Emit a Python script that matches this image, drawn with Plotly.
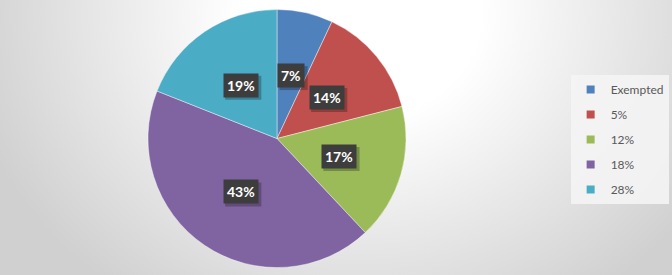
import numpy as np
import plotly.graph_objects as go

# ---- data ----
categories = ["Exempted", "5%", "12%", "18%", "28%"]
shares = [7, 14, 17, 43, 19]
colors = ["#4F81BD", "#C0504D", "#9BBB59", "#8064A2", "#4BACC6"]

W, H = 672, 275
pie_x = [0.2202, 0.6042]
pie_y = [0.0255, 0.967]

fig = go.Figure()

# background radial gradient (decoration)
bg_x = [-40, 760, 760, -40, -40]
bg_y = [-330, -330, 360, 360, -330]
fig.add_trace(go.Scatter(
    x=bg_x, y=bg_y, mode="lines", fill="toself", line=dict(width=0),
    fillgradient=dict(type="radial",
                      colorscale=[[0, "#ffffff"], [0.3, "#ffffff"], [1, "#d0d0d0"]]),
    showlegend=False, hoverinfo="skip"))

# legend entries (one per category)
for i, (c, col) in enumerate(zip(categories, colors)):
    fig.add_trace(go.Scatter(
        x=[None], y=[None], mode="markers", name=c, legendgroup=f"g{i}",
        marker=dict(symbol="square", size=8, color=col), showlegend=True))

fig.add_trace(go.Pie(
    labels=categories, values=shares, sort=False, direction="clockwise",
    rotation=0, marker=dict(colors=colors, line=dict(color="rgba(255,255,255,0.6)", width=0.7)),
    textinfo="none", showlegend=False,
    domain=dict(x=pie_x, y=pie_y)))

# data labels
vals = np.array(shares, dtype=float)
frac = vals / vals.sum()
mids = np.cumsum(frac) - frac / 2
cx = (pie_x[0] + pie_x[1]) / 2
cy = (pie_y[0] + pie_y[1]) / 2
R = min((pie_x[1] - pie_x[0]) * W, (pie_y[1] - pie_y[0]) * H) / 2
r = 0.5 * R
for f, v in zip(mids, frac):
    th = 2 * np.pi * f
    ax = cx + r * np.sin(th) / W
    ay = cy + r * np.cos(th) / H
    txt = f"{round(v * 100)}%"
    bw = (len(txt) - 1) * 8.1 + 11 + 8
    bh = 23
    fig.add_shape(type="rect", xref="paper", yref="paper",
                  xsizemode="pixel", ysizemode="pixel", xanchor=ax, yanchor=ay,
                  x0=-bw / 2 + 2, x1=bw / 2 + 3, y0=-bh / 2 - 3, y1=bh / 2 - 2,
                  fillcolor="rgba(0,0,0,0.25)", line=dict(width=0))
    fig.add_annotation(x=ax, y=ay, xref="paper", yref="paper",
                       xanchor="center", yanchor="middle",
                       text=f"<b>{txt}</b>", showarrow=False,
                       bgcolor="#3d3d3d", borderpad=3,
                       font=dict(family="Lato", size=14, color="#ffffff"))

fig.update_layout(
    width=W, height=H, margin=dict(l=0, r=0, t=0, b=0),
    paper_bgcolor="#e6e6e6", plot_bgcolor="rgba(0,0,0,0)",
    xaxis=dict(range=[0, W], visible=False, domain=[0, 1], fixedrange=True),
    yaxis=dict(range=[H, 0], visible=False, domain=[0, 1], fixedrange=True),
    legend=dict(x=0.995, xanchor="right", y=1 - 75 / H, yanchor="top",
                bgcolor="rgba(244,244,244,0.9)", tracegroupgap=6,
                font=dict(family="Lato", size=12, color="#595959")),
    showlegend=True,
)

fig.write_html("out.html")
